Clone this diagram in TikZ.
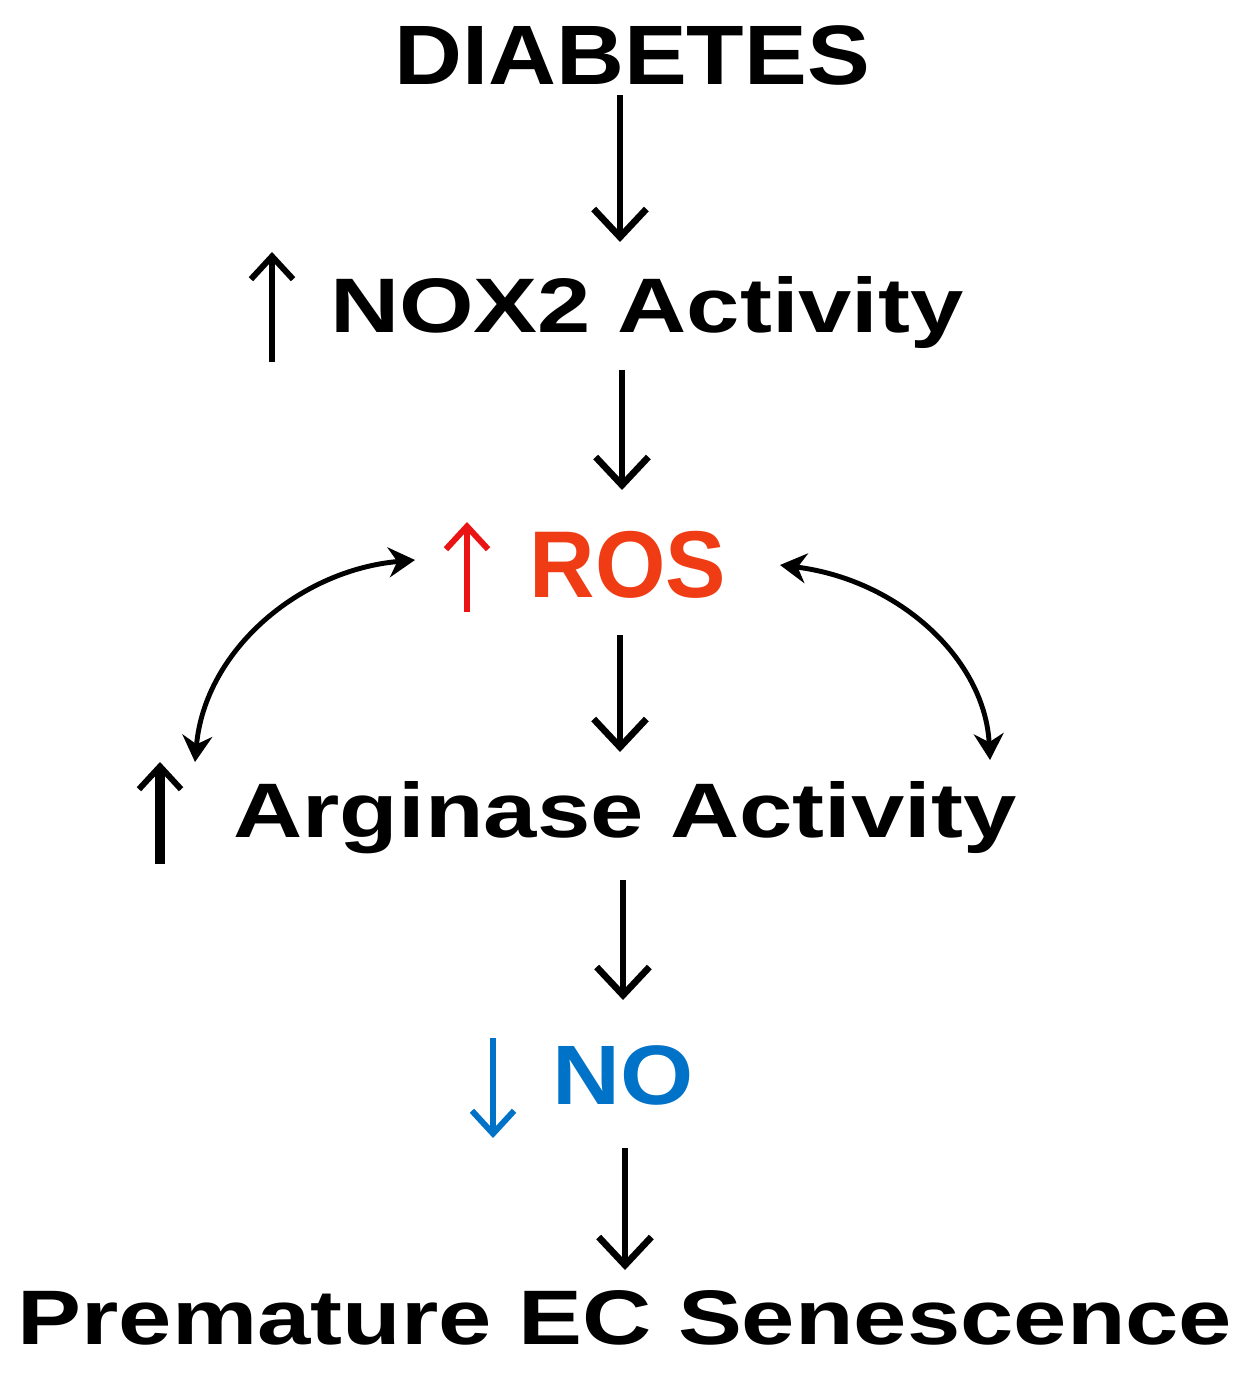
\documentclass[tikz,border=0pt]{standalone}
\usepackage{fontspec}
\setmainfont{Liberation Sans}
\usetikzlibrary{arrows.meta}
\definecolor{rosred}{RGB}{240,60,20}
\definecolor{upred}{RGB}{235,20,20}
\definecolor{noblue}{RGB}{0,115,200}
\begin{document}
\begin{tikzpicture}[x=0.02cm,y=-0.02cm,
  lbl/.style={font=\bfseries\fontsize{44}{50}\selectfont, inner sep=0pt, anchor=center, xscale=1.24},
  flow/.style={line width=3.8pt, -{Straight Barb[length=16pt,width=30pt,line width=3.8pt]}},
  dbl/.style={line width=2.8pt, {Stealth[length=15pt,width=17pt]}-{Stealth[length=15pt,width=17pt]}},
  indic/.style={line width=3.4pt, -{Straight Barb[length=13pt,width=24pt,line width=3.4pt]}}]
\useasboundingbox (0,0) rectangle (1252,1391);
\node[lbl,font=\bfseries\fontsize{48}{54}\selectfont,xscale=0.9] (dia) at (632,55) {DIABETES};
\node[lbl] (nox) at (647,313) {NOX2 Activity};
\node[lbl,font=\bfseries\fontsize{54}{60}\selectfont,text=rosred,xscale=0.77] (ros) at (628,565) {ROS};
\node[lbl] (arg) at (625,818) {Arginase Activity};
\node[lbl,font=\bfseries\fontsize{48}{54}\selectfont,text=noblue,xscale=0.9] (no) at (623,1075) {NO};
\node[lbl] (pre) at (625,1318) {Premature EC Senescence};
% indicator arrows
\coordinate (n1) at (272,362); \coordinate (n2) at (272,252);
\draw[indic] (n1) -- (n2);
\coordinate (r1) at (467,612); \coordinate (r2) at (467,522);
\draw[indic,upred] (r1) -- (r2);
\coordinate (a1) at (160,864); \coordinate (a2) at (160,762);
\draw[indic,line width=5.5pt] (a1) -- (a2);
\coordinate (b1) at (493,1038); \coordinate (b2) at (493,1138);
\draw[indic,noblue] (b1) -- (b2);
% flow arrows
\coordinate (f1a) at (620,95);  \coordinate (f1b) at (620,242);
\coordinate (f2a) at (622,370); \coordinate (f2b) at (622,490);
\coordinate (f3a) at (620,635); \coordinate (f3b) at (620,752);
\coordinate (f4a) at (623,880); \coordinate (f4b) at (623,1000);
\coordinate (f5a) at (625,1148); \coordinate (f5b) at (625,1270);
\draw[flow] (f1a) -- (f1b);
\draw[flow] (f2a) -- (f2b);
\draw[flow] (f3a) -- (f3b);
\draw[flow] (f4a) -- (f4b);
\draw[flow] (f5a) -- (f5b);
% double arrows
\coordinate (l1) at (415,560); \coordinate (l2) at (195,762);
\coordinate (q1) at (780,565); \coordinate (q2) at (990,760);
\draw[dbl] (l1) .. controls (300,570) and (205,650) .. (l2);
\draw[dbl] (q1) .. controls (900,580) and (985,660) .. (q2);
\end{tikzpicture}
\end{document}
